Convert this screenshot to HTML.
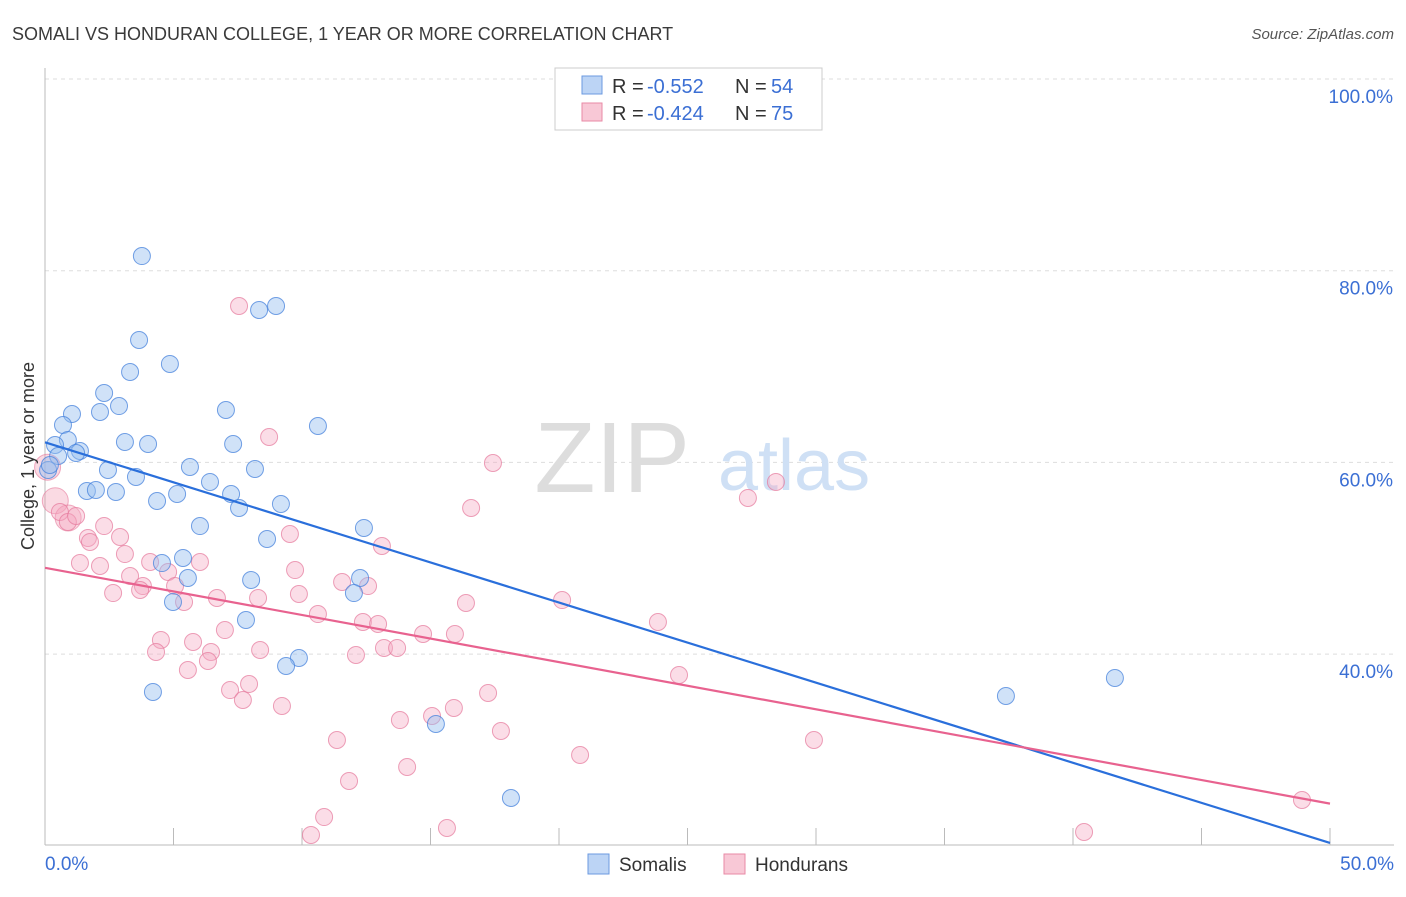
<!DOCTYPE html>
<html><head><meta charset="utf-8"><style>
body{margin:0;background:#fff;font-family:"Liberation Sans",sans-serif;}
svg text{font-family:"Liberation Sans",sans-serif;}
</style></head><body>
<svg id="chart" width="1406" height="892">
<text x="12" y="40" font-size="18" fill="#3a3a3a">SOMALI VS HONDURAN COLLEGE, 1 YEAR OR MORE CORRELATION CHART</text>
<text x="1394" y="39" font-size="15" fill="#555" font-style="italic" text-anchor="end">Source: ZipAtlas.com</text>
<g id="grid"></g>
<text x="690" y="492" font-size="100" fill="#ddd" font-family="Liberation Serif" text-anchor="end">ZIP</text>
<text x="718" y="490" font-size="72" fill="#cfe0f5">atlas</text>
<g id="pts"></g>
<g id="lines"></g>
<text x="34" y="456" font-size="18" fill="#333" text-anchor="middle" transform="rotate(-90 34 456)">College, 1 year or more</text>
<g>
<rect x="555" y="68" width="267" height="62" fill="#fff" stroke="#ccc"/>
<rect x="582" y="76" width="20" height="18" fill="#bcd4f5" stroke="#6b9ae0"/>
<text x="612" y="93" font-size="20" fill="#333">R =</text>
<text x="647" y="93" font-size="20" fill="#3b6fd4">-0.552</text>
<text x="735" y="93" font-size="20" fill="#333">N =</text>
<text x="771" y="93" font-size="20" fill="#3b6fd4">54</text>
<rect x="582" y="103" width="20" height="18" fill="#f8c8d6" stroke="#e88aa6"/>
<text x="612" y="120" font-size="20" fill="#333">R =</text>
<text x="647" y="120" font-size="20" fill="#3b6fd4">-0.424</text>
<text x="735" y="120" font-size="20" fill="#333">N =</text>
<text x="771" y="120" font-size="20" fill="#3b6fd4">75</text>
</g>
<g>
<rect x="588" y="854" width="21" height="20" fill="#bcd4f5" stroke="#6b9ae0"/>
<text x="619" y="871" font-size="19" fill="#333">Somalis</text>
<rect x="724" y="854" width="21" height="20" fill="#f8c8d6" stroke="#e88aa6"/>
<text x="755" y="871" font-size="19" fill="#333">Hondurans</text>
</g>
</svg>
<script>
const xTicks=[0,5,10,15,20,25,30,35,40,45,50];
const yTicks=[40,60,80,100];
const bluePx=[[142,256],[259,310],[276,306],[139,340],[170,364],[130,372],[104,393],[119,406],[72,414],[100,412],[226,410],[63,425],[318,426],[68,440],[125,442],[148,444],[233,444],[80,451],[76,453],[55,445],[58,456],[108,470],[190,467],[255,469],[136,477],[210,482],[87,491],[96,490],[116,492],[177,494],[231,494],[157,501],[281,504],[239,508],[200,526],[364,528],[267,539],[183,558],[162,563],[360,578],[188,578],[251,580],[173,602],[354,593],[246,620],[299,658],[286,666],[153,692],[436,724],[511,798],[1006,696],[1115,678],[48,470],[50,465]];
const pinkPx=[[239,306],[269,437],[493,463],[776,482],[748,498],[471,508],[60,512],[68,522],[76,516],[104,526],[88,538],[90,542],[120,537],[290,534],[382,546],[125,554],[80,563],[100,566],[150,562],[200,562],[168,572],[130,576],[143,586],[140,590],[113,593],[175,586],[295,570],[342,582],[368,586],[184,602],[217,598],[258,598],[299,594],[318,614],[466,603],[562,600],[658,622],[225,630],[363,622],[378,624],[423,634],[455,634],[161,640],[193,642],[156,652],[211,652],[260,650],[384,648],[397,648],[356,655],[188,670],[208,661],[679,675],[230,690],[249,684],[243,700],[282,706],[488,693],[432,716],[454,708],[400,720],[337,740],[501,731],[580,755],[814,740],[349,781],[407,767],[324,817],[311,835],[447,828],[1302,800],[1084,832]];
const somaliX=bluePx.map(p=>+((p[0]-45)/25.7).toFixed(2));
const somaliY=bluePx.map(p=>+(100-(p[1]-79)/9.585).toFixed(2));
const hondX=pinkPx.map(p=>+((p[0]-45)/25.7).toFixed(2));
const hondY=pinkPx.map(p=>+(100-(p[1]-79)/9.585).toFixed(2));
const blueLine=[62.1,20.3];
const pinkLine=[49.0,24.4];
const bigPink=[[0.1,59.5],[0.4,56.0],[0.9,54.2]];
const X=v=>45+v*25.7, Y=v=>79+(100-v)*9.585;
const NS='http://www.w3.org/2000/svg';
function mk(t,a,parent){const e=document.createElementNS(NS,t);for(const k in a)e.setAttribute(k,a[k]);parent.appendChild(e);return e;}
const svg=document.getElementById('chart'),grid=document.getElementById('grid');
yTicks.forEach(v=>{
const l=mk('line',{x1:45,x2:1394,y1:Y(v),y2:Y(v),stroke:'#ddd','stroke-dasharray':'4,4'},grid);


const t=mk('text',{x:1393,y:Y(v)+24,'font-size':19,fill:'#3b6fd4','text-anchor':'end'},svg);t.textContent=v.toFixed(1)+'%';


});
mk('line',{x1:45,x2:45,y1:68,y2:845,stroke:'#bbb'},grid);
mk('line',{x1:45,x2:1394,y1:845,y2:845,stroke:'#bbb'},grid);
xTicks.forEach(v=>{const l=mk('line',{x1:X(v),x2:X(v),y1:828,y2:845,stroke:'#bbb'},grid);

});
[[0,'0.0%','start',45],[50,'50.0%','end',1394]].forEach(d=>{const t=mk('text',{x:d[3],y:870,'font-size':19,fill:'#3b6fd4','text-anchor':d[2]},svg);t.textContent=d[1];

});
const pts=document.getElementById('pts');
bigPink.forEach(p=>{const c=mk('circle',{cx:X(p[0]),cy:Y(p[1]),r:13,fill:'rgba(240,150,175,0.35)',stroke:'rgba(230,120,155,0.6)'},pts);

});
hondX.forEach((x,i)=>{const c=mk('circle',{cx:X(x),cy:Y(hondY[i]),r:8.5,fill:'rgba(245,170,195,0.4)',stroke:'rgba(230,120,155,0.7)'},pts);

});
somaliX.forEach((x,i)=>{const c=mk('circle',{cx:X(x),cy:Y(somaliY[i]),r:8.5,fill:'rgba(150,190,240,0.45)',stroke:'rgba(70,130,220,0.75)'},pts);

});
const lg=document.getElementById('lines');
const bl=mk('line',{x1:X(0),y1:Y(blueLine[0]),x2:X(50),y2:Y(blueLine[1]),stroke:'#2a6fdb','stroke-width':2.2},lg);


const pl=mk('line',{x1:X(0),y1:Y(pinkLine[0]),x2:X(50),y2:Y(pinkLine[1]),stroke:'#e8628f','stroke-width':2.2},lg);


</script>
</body></html>
